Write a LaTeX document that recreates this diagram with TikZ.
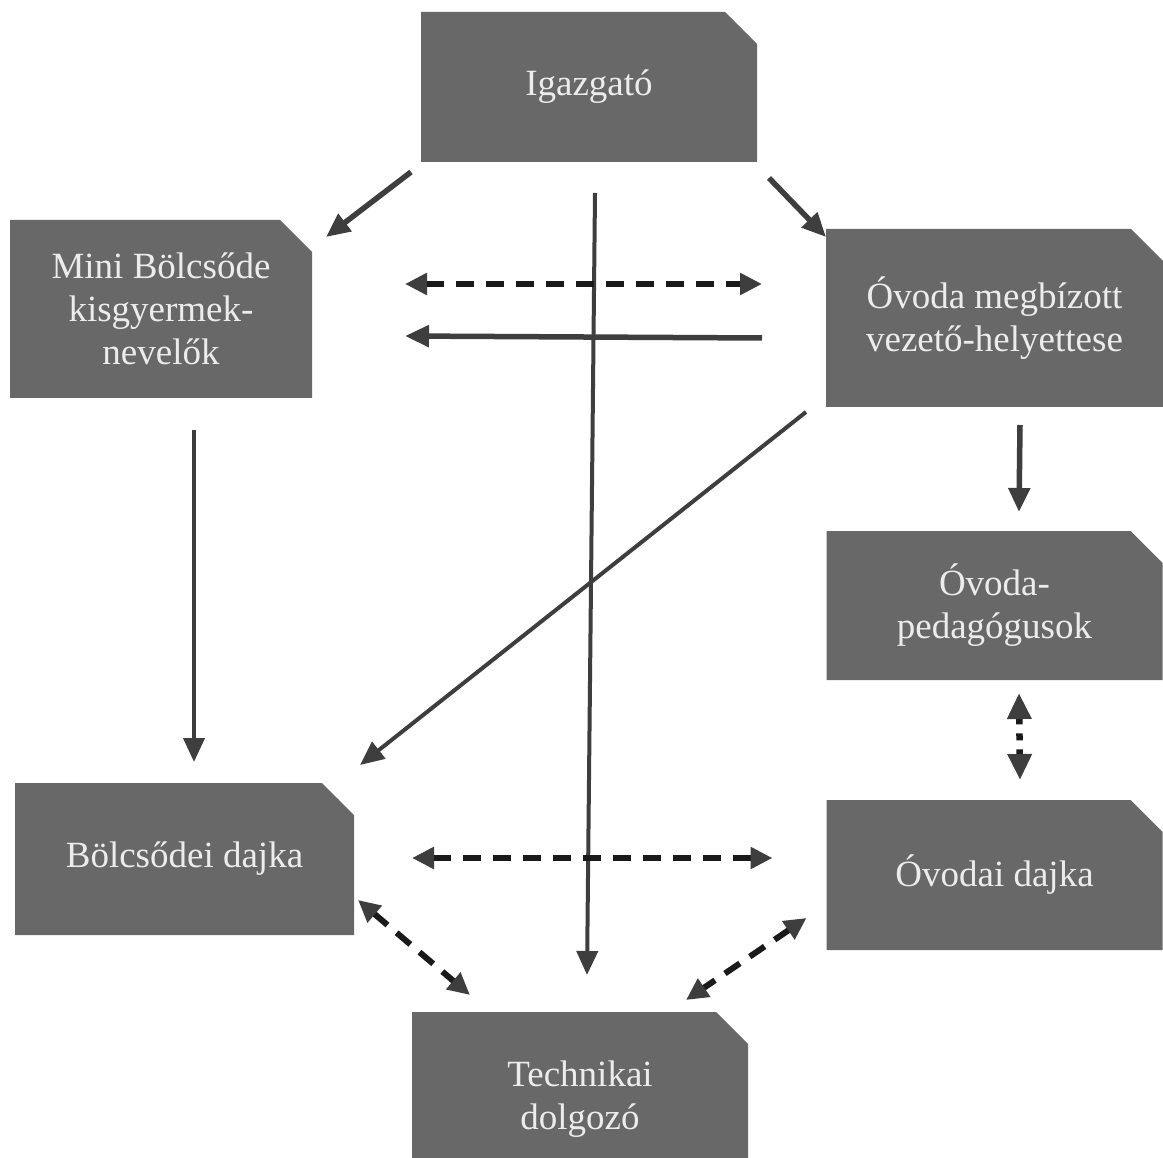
\documentclass[tikz,border=0pt]{standalone}
\usepackage{fontspec}
\setmainfont{Liberation Serif}
\usepackage{xcolor}
\usepackage{tikz}
\usetikzlibrary{shapes.misc, arrows.meta, positioning, calc}

\definecolor{boxgrey}{RGB}{104,104,104}
\definecolor{boxtext}{RGB}{236,236,236}
\definecolor{linegrey}{RGB}{62,62,62}
\definecolor{dashblack}{RGB}{26,26,26}

\begin{document}
\begin{tikzpicture}[
   x=1pt, y=-1pt,
   node distance = 120pt,
   box/.style = {chamfered rectangle, chamfered rectangle corners=north east, chamfered rectangle xsep=16pt, chamfered rectangle ysep=16pt, fill=boxgrey, text=boxtext, inner sep=0pt, outer sep=0pt, minimum width=336pt, minimum height=150pt, align=center, font=\fontsize{37}{43}\selectfont},
   line/.style = {draw=linegrey, line width=5.5pt, -{Triangle[length=24pt,width=21pt]}},
   longline/.style = {line, line width=4pt},
   dashline/.style = {draw=dashblack, line width=6pt, dash pattern=on 18pt off 12pt, {Triangle[length=22pt,width=21pt,color=linegrey]}-{Triangle[length=22pt,width=21pt,color=linegrey]}},
   dotline/.style = {draw=dashblack, line width=6.5pt, dash pattern=on 7pt off 9pt, {Triangle[length=26pt,width=23pt,color=linegrey]}-{Triangle[length=26pt,width=23pt,color=linegrey]}}
   ]
  \useasboundingbox (0,0) rectangle (1163,1158);

  % Director box
  \node[box] (igaz) at (589,87) {Igazgató};

  % Nursery side
  \node[box, minimum width=302pt, minimum height=178pt] (mini) at (161,309)
   {Mini Bölcsőde\\kisgyermek-\\nevelők};
  \node[box, minimum width=339pt, minimum height=152pt] (bdajka) at (184.5,859)
   {Bölcsődei dajka};

  % Kindergarten side
  \node[box, minimum width=337pt, minimum height=178pt] (vez) at (994.5,318)
   {Óvoda megbízott\\vezető-helyettese};
  \node[box, minimum height=149pt, below=124pt of vez] (ped)
   {Óvoda-\\pedagógusok};
  \node[box, below=120pt of ped] (odajka)
   {Óvodai dajka};

  % Technical staff
  \node[box, minimum height=175pt] (tech) at (580,1099.5)
   {Technikai\\dolgozó};

  % Arrows
  \draw[line] ($(igaz.south west)+(-10,10)$) -- ($(mini.east)+(14,-72)$);
  \draw[line] ($(igaz.south east)+(12,16)$) -- ($(vez.north west)+(0,8)$);
  \draw[longline] ($(igaz.south)+(6,31)$) -- ($(tech.north)+(7,-37)$);
  \draw[dashline] ($(mini.east)+(93,-25)$) -- ($(vez.west)+(-64,-34)$);
  \draw[line] ($(vez.west)+(-64,20)$) -- ($(mini.east)+(93,27)$);
  \draw[longline] ($(mini.south)+(33,32)$) -- ($(bdajka.north)+(9.5,-21)$);
  \draw[longline] ($(vez.south west)+(-20,5)$) -- ($(bdajka.east)+(6,-94)$);
  \draw[line] ($(vez.south)+(25.5,18)$) -- ($(ped.north)+(24.5,-19)$);
  \draw[dotline] ($(ped.south)+(24.5,13)$) -- ($(odajka.north)+(25.5,-20)$);
  \draw[dashline] ($(bdajka.east)+(58,-1)$) -- ($(odajka.west)+(-54,-17)$);
  \draw[dashline] ($(bdajka.south east)+(4,-35)$) -- ($(tech.north west)+(58,-17)$);
  \draw[dashline] ($(odajka.south west)+(-20,-32)$) -- ($(tech.north)+(106,-12)$);
\end{tikzpicture}
\end{document}
